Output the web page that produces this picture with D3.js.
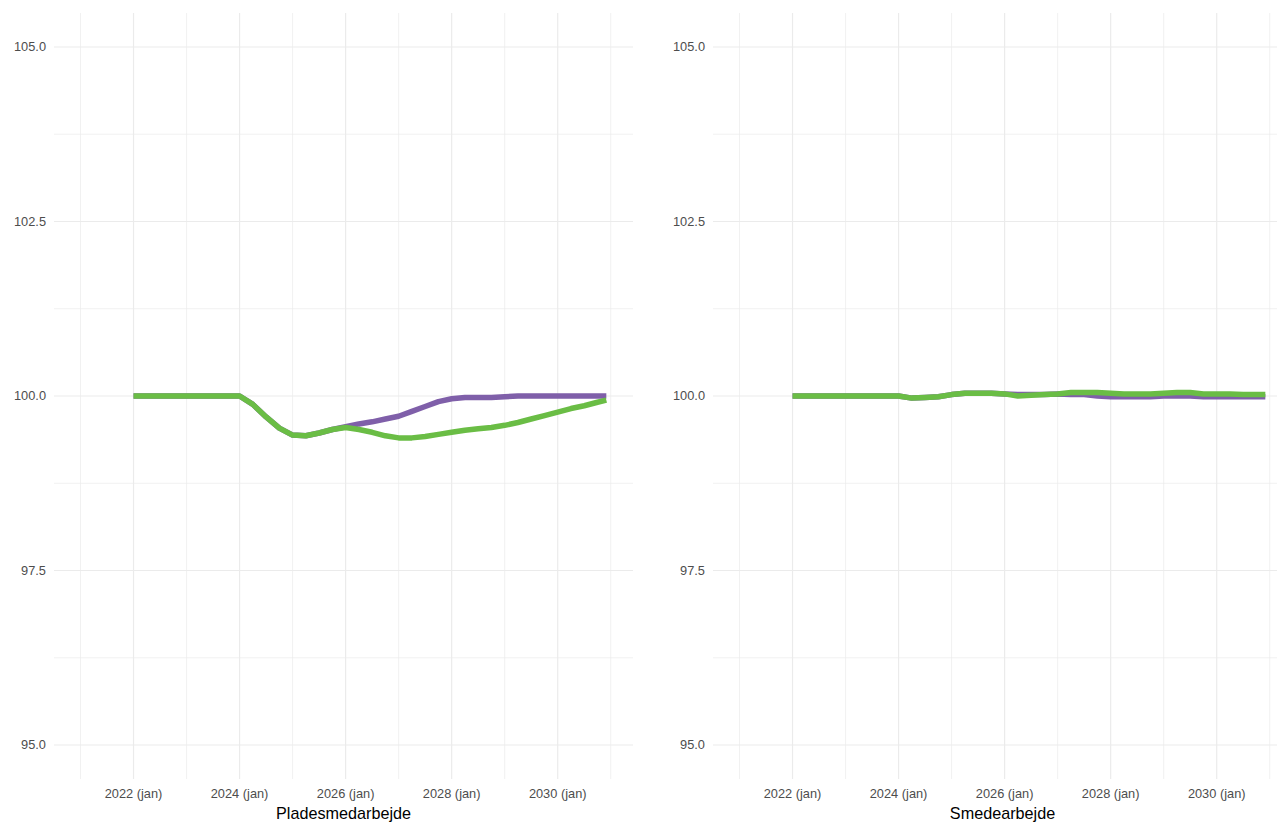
<!DOCTYPE html>
<html>
<head>
<meta charset="utf-8">
<script src="https://cdn.jsdelivr.net/npm/d3@7"></script>
<style>
  html, body { margin: 0; padding: 0; background: #ffffff; }
  svg { display: block; font-family: "Liberation Sans", Arial, "DejaVu Sans", sans-serif; }
</style>
</head>
<body>
<svg id="chart" width="1277" height="825"></svg>
<script>
// ---- Data (fractional years, quarterly points, last = Dec 2030) ----
const dates = [2022.0, 2022.25, 2022.5, 2022.75, 2023.0, 2023.25, 2023.5, 2023.75,
  2024.0, 2024.25, 2024.5, 2024.75, 2025.0, 2025.25, 2025.5, 2025.75,
  2026.0, 2026.25, 2026.5, 2026.75, 2027.0, 2027.25, 2027.5, 2027.75,
  2028.0, 2028.25, 2028.5, 2028.75, 2029.0, 2029.25, 2029.5, 2029.75,
  2030.0, 2030.25, 2030.5, 2030.75, 2030.917];

const pladesGreen = [100, 100, 100, 100, 100, 100, 100, 100,
  100, 99.88, 99.70, 99.54, 99.44, 99.43, 99.47, 99.52,
  99.55, 99.52, 99.48, 99.43, 99.40, 99.40, 99.42, 99.45,
  99.48, 99.51, 99.53, 99.55, 99.58, 99.62, 99.67, 99.72,
  99.77, 99.82, 99.86, 99.91, 99.94];

const pladesPurple = [100, 100, 100, 100, 100, 100, 100, 100,
  100, 99.88, 99.70, 99.54, 99.44, 99.43, 99.47, 99.52,
  99.56, 99.60, 99.63, 99.67, 99.71, 99.78, 99.85, 99.92,
  99.96, 99.98, 99.98, 99.98, 99.99, 100.0, 100.0, 100.0,
  100.0, 100.0, 100.0, 100.0, 100.0];

const smedeGreen = [100, 100, 100, 100, 100, 100, 100, 100,
  100, 99.97, 99.98, 99.99, 100.02, 100.04, 100.04, 100.04,
  100.03, 100.00, 100.01, 100.02, 100.03, 100.05, 100.05, 100.05,
  100.04, 100.03, 100.03, 100.03, 100.04, 100.05, 100.05, 100.03,
  100.03, 100.03, 100.02, 100.02, 100.02];

const smedePurple = [100, 100, 100, 100, 100, 100, 100, 100,
  100, 99.97, 99.98, 99.99, 100.02, 100.04, 100.04, 100.04,
  100.03, 100.02, 100.02, 100.02, 100.03, 100.02, 100.02, 100.00,
  99.99, 99.99, 99.99, 99.99, 100.0, 100.0, 100.0, 99.99,
  99.99, 99.99, 99.99, 99.99, 99.99];

const panelTitles = ["Pladesmedarbejde", "Smedearbejde"];
const xTickYears = [2022, 2024, 2026, 2028, 2030];
const xTickLabels = ["2022 (jan)", "2024 (jan)", "2026 (jan)", "2028 (jan)", "2030 (jan)"];
const xMinorYears = [2021, 2023, 2025, 2027, 2029, 2031];
const yTicks = [95, 97.5, 100, 102.5, 105];
const yMinor = [96.25, 98.75, 101.25, 103.75];

const colors = { purple: "#7f5fa9", green: "#6abd45" };

// ---- Layout ----
const svg = d3.select("#chart");
const panels = [
  { left: 54, right: 633, title: panelTitles[0], green: pladesGreen, purple: pladesPurple },
  { left: 713, right: 1292, title: panelTitles[1], green: smedeGreen, purple: smedePurple }
];
const plotTop = 13, plotBottom = 779;

const y = d3.scaleLinear().domain([94.513, 105.487]).range([plotBottom, plotTop]);

panels.forEach(p => {
  const x = d3.scaleLinear().domain([2020.5, 2031.42]).range([p.left, p.right]);
  const g = svg.append("g");

  // grid
  const grid = g.append("g").attr("stroke", "#ebebeb").attr("fill", "none");
  yMinor.forEach(v => grid.append("line")
    .attr("x1", p.left).attr("x2", p.right).attr("y1", y(v)).attr("y2", y(v))
    .attr("stroke-width", 0.7));
  xMinorYears.forEach(v => grid.append("line")
    .attr("x1", x(v)).attr("x2", x(v)).attr("y1", plotTop).attr("y2", plotBottom)
    .attr("stroke-width", 0.7));
  yTicks.forEach(v => grid.append("line")
    .attr("x1", p.left).attr("x2", p.right).attr("y1", y(v)).attr("y2", y(v))
    .attr("stroke-width", 1.2));
  xTickYears.forEach(v => grid.append("line")
    .attr("x1", x(v)).attr("x2", x(v)).attr("y1", plotTop).attr("y2", plotBottom)
    .attr("stroke-width", 1.2));

  // y axis labels
  g.append("g").selectAll("text").data(yTicks).join("text")
    .attr("x", p.left - 8).attr("y", d => y(d)).attr("dy", "0.35em")
    .attr("text-anchor", "end").attr("font-size", 12.8).attr("fill", "#4d4d4d")
    .text(d => d3.format(".1f")(d));

  // x axis labels
  g.append("g").selectAll("text").data(xTickYears).join("text")
    .attr("x", d => x(d)).attr("y", 798)
    .attr("text-anchor", "middle").attr("font-size", 12.8).attr("fill", "#4d4d4d")
    .text((d, i) => xTickLabels[i]);

  // title
  g.append("text")
    .attr("x", (p.left + p.right) / 2).attr("y", 819)
    .attr("text-anchor", "middle").attr("font-size", 16.2).attr("fill", "#000")
    .text(p.title);

  // lines
  const line = d3.line().x((d, i) => x(dates[i])).y(d => y(d));
  g.append("path").datum(p.purple).attr("d", line)
    .attr("fill", "none").attr("stroke", colors.purple).attr("stroke-width", 5.5)
    .attr("stroke-linejoin", "round");
  g.append("path").datum(p.green).attr("d", line)
    .attr("fill", "none").attr("stroke", colors.green).attr("stroke-width", 5.5)
    .attr("stroke-linejoin", "round");
});
</script>
</body>
</html>
